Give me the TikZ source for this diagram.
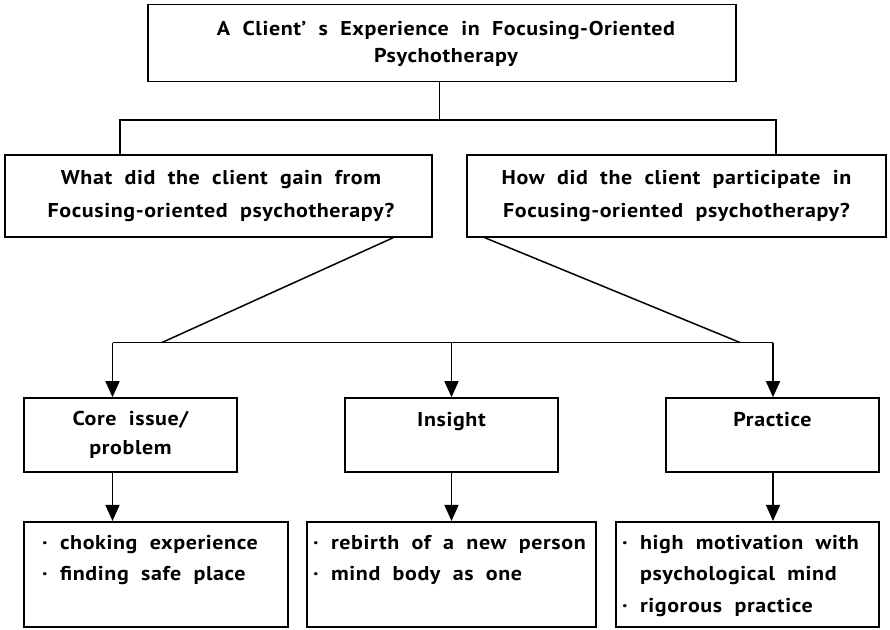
\documentclass[tikz,border=0pt]{standalone}
\usepackage{fontspec}
\setmainfont{PT Sans}[WordSpace=2.0, LetterSpace=3, FakeStretch=1.1, BoldFont={PT Sans Bold}, BoldFeatures={WordSpace=2.0, LetterSpace=3, FakeStretch=1.1}]
\usetikzlibrary{arrows.meta}
\begin{document}
\begin{tikzpicture}[x=1pt,y=-1pt,
  box/.style={draw, line width=1.6pt, rectangle, inner sep=0pt},
  lbl/.style={font=\bfseries\fontsize{20}{28}\selectfont, align=center, inner sep=0pt},
  itm/.style={font=\bfseries\fontsize{20}{31.5}\selectfont, align=left, inner sep=0pt, anchor=north west},
  conn/.style={line width=1.5pt},
  arr/.style={line width=1.5pt, -{Triangle[length=16pt,width=14pt]}}]
\useasboundingbox (0,0) rectangle (890,629);
% boxes
\node[box, minimum width=588pt, minimum height=77pt] (top) at (442,43) {};
\node[lbl, font=\bfseries\fontsize{20}{27}\selectfont] (toptxt) at (446,43.5) {A Client’ s Experience in Focusing-Oriented\\Psychotherapy};
\node[box, minimum width=427pt, minimum height=82pt] (gain) at (218.5,196) {};
\node[lbl, font=\bfseries\fontsize{20}{33}\selectfont] (gaintxt) at (221,196.5) {What did the client gain from\\Focusing-oriented psychotherapy?};
\node[box, minimum width=419pt, minimum height=82pt] (part) at (676.5,196) {};
\node[lbl, font=\bfseries\fontsize{20}{33}\selectfont] (parttxt) at (676.5,196.5) {How did the client participate in\\Focusing-oriented psychotherapy?};
\node[box, minimum width=213pt, minimum height=74pt] (core) at (130.5,435) {};
\node[lbl, font=\bfseries\fontsize{20}{29}\selectfont] (coretxt) at (130.5,435) {Core issue/\\problem};
\node[box, minimum width=213pt, minimum height=74pt] (ins) at (451.5,435) {};
\node[lbl, anchor=base] (instxt) at (451.5,426) {Insight};
\node[box, minimum width=213pt, minimum height=74pt] (prac) at (772.5,435) {};
\node[lbl, anchor=base] (practxt) at (772.5,426) {Practice};
\node[box, minimum width=264pt, minimum height=105.5pt] (b1) at (156,574.5) {};
\node[itm] (b1txt) at (42,535) {· choking experience\\· finding safe place};
\node[box, minimum width=289pt, minimum height=105.5pt] (b2) at (451.5,574.5) {};
\node[itm] (b2txt) at (313,535) {· rebirth of a new person\\· mind body as one};
\node[box, minimum width=263pt, minimum height=105.5pt] (b3) at (747.5,574.5) {};
\node[itm] (b3txt) at (622,535) {· high motivation with\\\phantom{· }psychological mind\\· rigorous practice};
% connector points
\coordinate (tj) at (439.5,120);
\coordinate (cl) at (120,120);
\coordinate (cr) at (776,120);
\coordinate (p1) at (393,237);
\coordinate (p2) at (485,237);
\coordinate (q1) at (162,342.5);
\coordinate (q2) at (740,342.5);
\coordinate (a1) at (112.5,342.5);
\coordinate (a2) at (451.5,342.5);
\coordinate (a3) at (773,342.5);
% connectors
\draw[conn] (top.south -| tj) -- (tj);
\draw[conn] (gain.north -| cl) -- (cl) -- (cr) -- (part.north -| cr);
\draw[conn] (gain.south -| p1) -- (q1);
\draw[conn] (part.south -| p2) -- (q2);
\draw[conn] (a1) -- (a3);
\draw[arr] (a1) -- (core.north -| a1);
\draw[arr] (a2) -- (ins.north);
\draw[arr] (a3) -- (prac.north -| a3);
\draw[arr] (core.south -| a1) -- (b1.north -| a1);
\draw[arr] (ins.south) -- (b2.north -| ins.south);
\draw[arr] (prac.south -| a3) -- (b3.north -| a3);
\end{tikzpicture}
\end{document}
